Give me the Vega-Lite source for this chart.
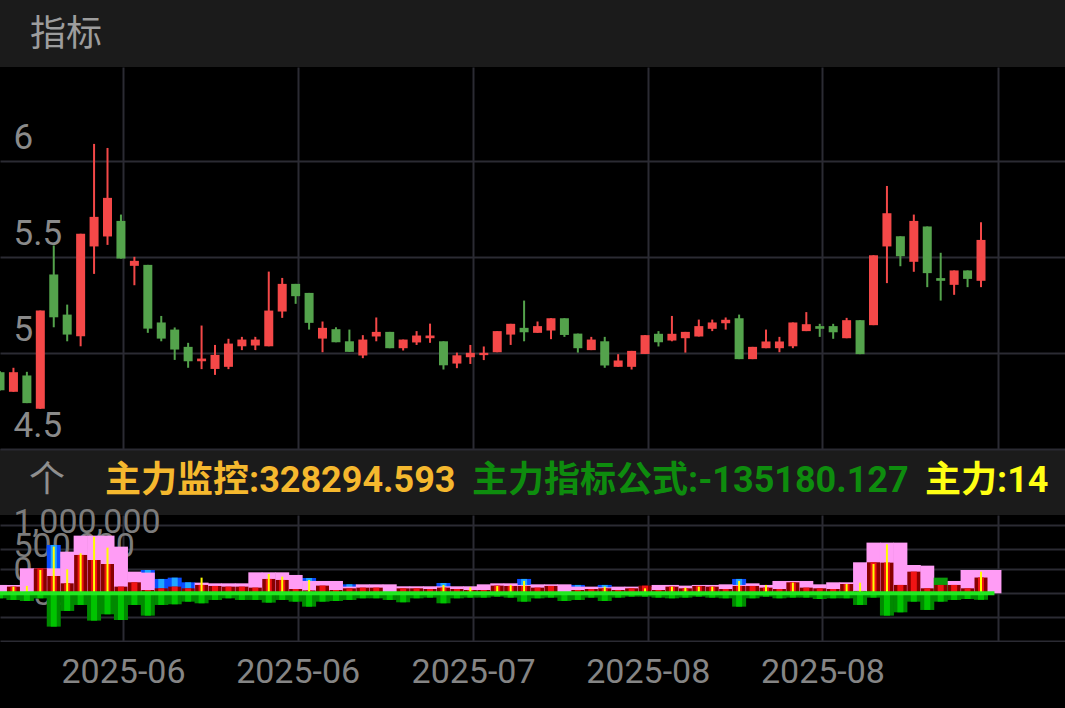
{
  "$schema": "https://vega.github.io/schema/vega-lite/v6.json",
  "background": "#1b1b1b",
  "padding": {"left": 0, "right": 0, "top": 17, "bottom": 0},
  "spacing": 0,
  "config": {
    "view": {"stroke": null},
    "scale": {"continuousPadding": 0},
    "axis": {"domain": false, "ticks": false, "tickSize": 0, "gridColor": "#2b2b33", "gridWidth": 2, "gridOpacity": 1, "labelColor": "#8a8a8a", "labelFont": "Roboto", "labelFontSize": 34, "labelOverlap": false, "labelFlush": false}
  },
  "datasets": {
    "days": [
      {"i":1,"open":4.775,"high":4.780,"low":4.680,"close":4.681,"P":174000,"G":-104000},
      {"i":2,"open":4.673,"high":4.798,"low":4.673,"close":4.775,"P":174000,"R":139000,"Y":139000,"G":-139000},
      {"i":3,"open":4.758,"high":4.777,"low":4.614,"close":4.614,"P":521000,"Y":153000,"G":-160000},
      {"i":4,"open":4.584,"high":5.096,"low":4.584,"close":5.096,"P":521000,"R":521000,"Y":486000,"G":-104000},
      {"i":5,"open":5.284,"high":5.435,"low":5.009,"close":5.061,"P":521000,"B":1007000,"R":361000,"Y":972000,"G":-694000},
      {"i":6,"open":5.075,"high":5.127,"low":4.936,"close":4.971,"P":868000,"R":208000,"Y":500000,"G":-368000},
      {"i":7,"open":4.962,"high":5.496,"low":4.910,"close":5.496,"P":1201000,"R":799000,"Y":833000,"G":-243000},
      {"i":8,"open":5.430,"high":5.964,"low":5.287,"close":5.584,"P":1201000,"R":694000,"Y":1180000,"G":-569000},
      {"i":9,"open":5.482,"high":5.943,"low":5.438,"close":5.683,"P":1201000,"R":611000,"Y":951000,"G":-437000},
      {"i":10,"open":5.563,"high":5.596,"low":5.367,"close":5.367,"P":972000,"R":139000,"G":-556000},
      {"i":11,"open":5.329,"high":5.376,"low":5.228,"close":5.355,"P":451000,"R":229000,"G":-243000},
      {"i":12,"open":5.334,"high":5.334,"low":4.980,"close":5.002,"P":431000,"B":486000,"R":69000,"G":-465000},
      {"i":13,"open":5.034,"high":5.068,"low":4.936,"close":4.950,"B":299000,"R":104000,"G":-243000},
      {"i":14,"open":4.997,"high":5.008,"low":4.839,"close":4.893,"B":326000,"R":139000,"G":-229000},
      {"i":15,"open":4.907,"high":4.928,"low":4.798,"close":4.832,"B":229000,"R":104000,"G":-174000},
      {"i":16,"open":4.832,"high":5.018,"low":4.791,"close":4.846,"P":222000,"R":174000,"Y":326000,"G":-208000},
      {"i":17,"open":4.792,"high":4.917,"low":4.761,"close":4.865,"P":208000,"R":153000,"G":-139000},
      {"i":18,"open":4.803,"high":4.949,"low":4.791,"close":4.924,"P":208000,"R":139000,"G":-104000},
      {"i":19,"open":4.910,"high":4.959,"low":4.890,"close":4.945,"P":208000,"R":139000,"G":-139000},
      {"i":20,"open":4.914,"high":4.959,"low":4.890,"close":4.945,"P":437000,"R":118000,"G":-139000},
      {"i":21,"open":4.910,"high":5.299,"low":4.910,"close":5.096,"P":437000,"R":299000,"Y":403000,"G":-194000},
      {"i":22,"open":5.091,"high":5.266,"low":5.058,"close":5.235,"P":437000,"R":278000,"Y":347000,"G":-139000},
      {"i":23,"open":5.235,"high":5.235,"low":5.131,"close":5.171,"P":382000,"R":90000,"G":-174000},
      {"i":24,"open":5.188,"high":5.188,"low":4.997,"close":5.032,"P":257000,"B":319000,"R":60000,"Y":278000,"G":-278000},
      {"i":25,"open":4.950,"high":5.039,"low":4.879,"close":5.006,"P":257000,"R":160000,"G":-174000},
      {"i":26,"open":4.999,"high":5.009,"low":4.931,"close":4.931,"P":257000,"R":69000,"G":-160000},
      {"i":27,"open":4.936,"high":4.997,"low":4.881,"close":4.881,"P":139000,"B":187000,"R":104000,"G":-139000},
      {"i":28,"open":4.862,"high":4.968,"low":4.848,"close":4.945,"P":187000,"R":118000,"G":-104000},
      {"i":29,"open":4.961,"high":5.060,"low":4.936,"close":4.985,"P":187000,"R":118000,"G":-104000},
      {"i":30,"open":4.985,"high":4.985,"low":4.900,"close":4.900,"P":187000,"G":-139000},
      {"i":31,"open":4.900,"high":4.945,"low":4.888,"close":4.945,"P":146000,"R":104000,"G":-187000},
      {"i":32,"open":4.930,"high":4.989,"low":4.917,"close":4.966,"P":146000,"R":104000,"G":-104000},
      {"i":33,"open":4.952,"high":5.028,"low":4.928,"close":4.966,"P":146000,"R":90000,"G":-90000},
      {"i":34,"open":4.936,"high":4.936,"low":4.789,"close":4.811,"P":146000,"B":215000,"R":118000,"Y":174000,"G":-208000},
      {"i":35,"open":4.820,"high":4.877,"low":4.796,"close":4.863,"P":146000,"R":90000,"G":-104000},
      {"i":36,"open":4.853,"high":4.917,"low":4.818,"close":4.876,"P":146000,"R":69000,"Y":125000,"G":-90000},
      {"i":37,"open":4.864,"high":4.909,"low":4.838,"close":4.876,"P":187000,"R":69000,"G":-90000},
      {"i":38,"open":4.879,"high":4.989,"low":4.879,"close":4.989,"P":208000,"R":160000,"Y":153000,"G":-69000},
      {"i":39,"open":4.971,"high":5.027,"low":4.917,"close":5.027,"P":208000,"R":153000,"Y":174000,"G":-90000},
      {"i":40,"open":5.006,"high":5.148,"low":4.936,"close":4.983,"P":174000,"B":299000,"R":153000,"Y":257000,"G":-174000},
      {"i":41,"open":4.980,"high":5.039,"low":4.980,"close":5.015,"P":187000,"R":118000,"G":-104000},
      {"i":42,"open":4.992,"high":5.056,"low":4.947,"close":5.056,"P":187000,"R":153000,"G":-90000},
      {"i":43,"open":5.056,"high":5.056,"low":4.959,"close":4.969,"P":187000,"G":-160000},
      {"i":44,"open":4.976,"high":4.976,"low":4.877,"close":4.900,"P":139000,"B":174000,"R":69000,"G":-139000},
      {"i":45,"open":4.890,"high":4.959,"low":4.890,"close":4.945,"P":139000,"R":90000,"G":-90000},
      {"i":46,"open":4.936,"high":4.959,"low":4.798,"close":4.810,"P":125000,"B":174000,"R":104000,"Y":139000,"G":-160000},
      {"i":47,"open":4.803,"high":4.869,"low":4.803,"close":4.836,"P":139000,"R":69000,"G":-90000},
      {"i":48,"open":4.803,"high":4.886,"low":4.789,"close":4.886,"P":139000,"R":104000,"G":-69000},
      {"i":49,"open":4.870,"high":4.968,"low":4.870,"close":4.968,"P":139000,"R":160000,"Y":104000,"G":-69000},
      {"i":50,"open":4.975,"high":4.989,"low":4.909,"close":4.931,"P":174000,"R":69000,"G":-90000},
      {"i":51,"open":4.940,"high":5.068,"low":4.936,"close":4.975,"P":174000,"R":139000,"Y":139000,"G":-104000},
      {"i":52,"open":4.952,"high":4.985,"low":4.877,"close":4.985,"P":160000,"R":104000,"Y":118000,"G":-90000},
      {"i":53,"open":4.961,"high":5.049,"low":4.961,"close":5.015,"P":174000,"R":153000,"Y":139000,"G":-69000},
      {"i":54,"open":5.001,"high":5.049,"low":4.989,"close":5.034,"P":174000,"R":139000,"Y":139000,"G":-90000},
      {"i":55,"open":5.030,"high":5.060,"low":4.997,"close":5.048,"P":187000,"R":90000,"G":-104000},
      {"i":56,"open":5.056,"high":5.075,"low":4.843,"close":4.843,"P":174000,"B":299000,"R":153000,"Y":257000,"G":-278000},
      {"i":57,"open":4.843,"high":4.907,"low":4.843,"close":4.907,"P":208000,"R":153000,"G":-104000},
      {"i":58,"open":4.900,"high":4.997,"low":4.900,"close":4.935,"P":174000,"R":118000,"Y":174000,"G":-69000},
      {"i":59,"open":4.900,"high":4.959,"low":4.879,"close":4.935,"P":257000,"R":90000,"G":-104000},
      {"i":60,"open":4.910,"high":5.034,"low":4.900,"close":5.034,"P":257000,"R":229000,"Y":222000,"G":-90000},
      {"i":61,"open":4.989,"high":5.088,"low":4.989,"close":5.025,"P":257000,"R":118000,"G":-90000},
      {"i":62,"open":5.015,"high":5.027,"low":4.959,"close":5.001,"P":187000,"R":104000,"G":-118000},
      {"i":63,"open":5.015,"high":5.027,"low":4.949,"close":4.983,"P":229000,"R":90000,"G":-104000},
      {"i":64,"open":4.952,"high":5.058,"low":4.952,"close":5.046,"P":229000,"R":194000,"Y":194000,"G":-104000},
      {"i":65,"open":5.046,"high":5.046,"low":4.869,"close":4.869,"P":646000,"R":49000,"Y":222000,"G":-243000},
      {"i":66,"open":5.020,"high":5.384,"low":5.020,"close":5.384,"P":1056000,"R":646000,"Y":611000,"G":-90000},
      {"i":67,"open":5.430,"high":5.745,"low":5.239,"close":5.603,"P":1056000,"R":639000,"Y":1021000,"G":-465000},
      {"i":68,"open":5.483,"high":5.483,"low":5.327,"close":5.379,"P":1056000,"R":174000,"G":-396000},
      {"i":69,"open":5.350,"high":5.596,"low":5.298,"close":5.563,"P":590000,"R":451000,"G":-174000},
      {"i":70,"open":5.534,"high":5.534,"low":5.218,"close":5.291,"P":576000,"R":104000,"G":-347000},
      {"i":71,"open":5.265,"high":5.397,"low":5.148,"close":5.251,"GC":326000,"R":174000,"G":-174000},
      {"i":72,"open":5.230,"high":5.305,"low":5.178,"close":5.305,"P":257000,"R":174000,"G":-139000},
      {"i":73,"open":5.305,"high":5.305,"low":5.218,"close":5.261,"P":486000,"R":104000,"G":-118000},
      {"i":74,"open":5.251,"high":5.556,"low":5.218,"close":5.464,"P":486000,"R":328294.593,"Y":451000,"G":-135180.127},
      {"i":75,"P":486000}
    ]
  },
  "resolve": {"legend": {"color": "independent"}, "scale": {"color": "independent"}},
  "vconcat": [
    {
      "width": 1065,
      "height": 382,
      "view": {"fill": "#000000", "stroke": null},
      "title": {"text": "指标", "anchor": "start", "fontSize": 36, "font": "Noto Sans CJK SC", "fontWeight": "normal", "color": "#9d9d9d", "offset": 13, "dx": 30},
      "data": {"name": "days"},
      "encoding": {
        "x": {"field": "i", "type": "quantitative", "scale": {"domain": [1, 80.25], "nice": false, "zero": false, "padding": 0},
              "axis": {"values": [10.15, 23.15, 36.2, 49.2, 62.2, 75.25], "grid": true, "labels": false, "title": null}}
      },
      "layer": [
        {
          "mark": {"type": "rule", "strokeWidth": 2, "clip": true},
          "encoding": {
            "y": {"field": "low", "type": "quantitative", "scale": {"domain": [4.375, 6.3646], "nice": false, "zero": false},
                  "axis": {"values": [4.375, 4.875, 5.375, 5.875], "grid": true, "labelExpr": "'' + (datum.value + 0.125)", "labelOffset": -24, "labelPadding": -13, "labelAlign": "left", "labelBaseline": "middle", "labelFontSize": 35, "title": null}},
            "y2": {"field": "high"},
            "color": {"condition": {"test": "datum.close >= datum.open", "value": "#f44848"}, "value": "#54a34c"}
          }
        },
        {
          "mark": {"type": "bar", "size": 9, "clip": true},
          "encoding": {
            "y": {"field": "open", "type": "quantitative", "scale": {"domain": [4.375, 6.3646], "nice": false, "zero": false},
                  "axis": {"values": [4.375, 4.875, 5.375, 5.875], "grid": true, "labelExpr": "'' + (datum.value + 0.125)", "labelOffset": -24, "labelPadding": -13, "labelAlign": "left", "labelBaseline": "middle", "labelFontSize": 35, "title": null}},
            "y2": {"field": "close"},
            "color": {"condition": {"test": "datum.close >= datum.open", "value": "#f44848"}, "value": "#54a34c"}
          }
        }
      ]
    },
    {
      "width": 1065,
      "height": 127,
      "view": {"fill": "#000000", "stroke": null},
      "data": {"name": "days"},
      "encoding": {
        "x": {"field": "i", "type": "quantitative", "scale": {"domain": [1, 80.25], "nice": false, "zero": false, "padding": 0},
              "axis": {"values": [10.15, 23.15, 36.2, 49.2, 62.2, 75.25], "grid": true, "labels": false, "title": null}}
      },
      "layer": [
        {
          "mark": {"type": "bar", "size": 14, "color": "#0a4dff", "clip": true},
          "encoding": {"y": {"field": "B", "type": "quantitative", "scale": {"domain": [-1014583, 1631250], "nice": false, "zero": false},
            "axis": {"orient": "left", "values": [-500000, 0, 500000, 1000000], "grid": false, "format": ",d", "labelOffset": -23, "labelPadding": -13, "labelAlign": "left", "labelBaseline": "middle", "labelColor": "#7c7c7c", "title": null}}}
        },
        {
          "mark": {"type": "bar", "size": 6, "color": "#1fa6ff", "clip": true},
          "encoding": {"y": {"field": "B", "type": "quantitative", "axis": null}}
        },
        {
          "mark": {"type": "bar", "size": 14, "color": "#ff9cf5", "clip": true},
          "encoding": {"y": {"field": "P", "type": "quantitative", "axis": null}}
        },
        {
          "mark": {"type": "bar", "size": 14, "color": "#0b9a0b", "clip": true},
          "encoding": {"y": {"field": "GC", "type": "quantitative", "axis": null}}
        },
        {
          "mark": {"type": "bar", "size": 13, "color": "#880000", "clip": true},
          "encoding": {"y": {"field": "R", "type": "quantitative", "axis": null}}
        },
        {
          "mark": {"type": "bar", "size": 6, "color": "#f01414", "clip": true},
          "encoding": {"y": {"field": "R", "type": "quantitative", "axis": null}}
        },
        {
          "mark": {"type": "bar", "size": 14, "color": "#008a00", "clip": true},
          "encoding": {"y": {"field": "G", "type": "quantitative", "axis": null}}
        },
        {
          "mark": {"type": "bar", "size": 6, "color": "#00c400", "clip": true},
          "encoding": {"y": {"field": "G", "type": "quantitative", "axis": null}}
        },
        {
          "mark": {"type": "bar", "size": 2, "color": "#ffff00", "clip": true},
          "encoding": {"y": {"field": "Y", "type": "quantitative", "axis": null}}
        },
        {
          "mark": {"type": "rule", "color": "#22e822", "strokeWidth": 4, "clip": true},
          "encoding": {
            "x": {"aggregate": "min", "field": "i", "type": "quantitative"},
            "x2": {"aggregate": "max", "field": "i"},
            "y": {"datum": 0, "type": "quantitative", "axis": null}
          }
        },
        {
          "data": {"values": [{"item": "主力监控:328294.593"}, {"item": "主力指标公式:-135180.127"}, {"item": "主力:14"}]},
          "mark": {"type": "point", "opacity": 0, "size": 0, "strokeWidth": 0, "clip": true},
          "encoding": {
            "y": {"datum": 0, "type": "quantitative",
                  "axis": {"values": [-1000000, -500000, 0, 500000, 929167, 1422917], "grid": true, "labels": false, "title": null}},
            "color": {"field": "item", "type": "nominal",
              "scale": {"domain": ["主力监控:328294.593", "主力指标公式:-135180.127", "主力:14"], "range": ["#f5b82e", "#0e8c0e", "#ffff14"]},
              "legend": {
                "title": "个", "orient": "none", "legendX": 29, "legendY": -66, "padding": 0,
                "direction": "horizontal", "columns": 3, "columnPadding": 16,
                "titleOrient": "left", "titlePadding": 39, "titleAnchor": "middle", "titleBaseline": "middle",
                "titleFontSize": 36, "titleFont": "Noto Sans CJK SC", "titleFontWeight": "normal", "titleColor": "#8f8f8f",
                "labelFontSize": 36, "labelFont": "Roboto, Noto Sans CJK SC", "labelFontWeight": "bold", "labelOffset": -64, "labelLimit": 1000,
                "labelColor": {"expr": "indexof(datum.value, '监控') >= 0 ? '#f5b82e' : indexof(datum.value, '公式') >= 0 ? '#0e8c0e' : '#ffff14'"},
                "symbolSize": 4096, "symbolType": "square", "symbolOpacity": 0, "symbolStrokeWidth": 0
              }
            }
          }
        }
      ],
      "resolve": {"axis": {"y": "independent"}}
    },
    {
      "width": 1065,
      "height": 66,
      "view": {"fill": "#000000", "stroke": null},
      "data": {"name": "days"},
      "mark": {"type": "point", "opacity": 0, "size": 0, "strokeWidth": 0, "clip": true},
      "encoding": {
        "x": {"field": "i", "type": "quantitative", "scale": {"domain": [1, 80.25], "nice": false, "zero": false, "padding": 0},
              "axis": {"orient": "bottom", "values": [10.15, 23.15, 36.2, 49.2, 62.2], "grid": false, "labelExpr": "datum.value < 30 ? '2025-06' : datum.value < 40 ? '2025-07' : '2025-08'", "labelPadding": -36, "labelBaseline": "middle", "labelAlign": "center", "labelColor": "#858585", "title": null}}
      }
    }
  ]
}
